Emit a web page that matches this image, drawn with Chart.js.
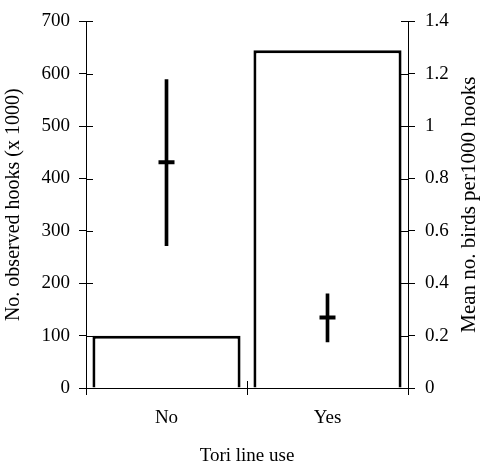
<!DOCTYPE html>
<html>
<head>
<meta charset="utf-8">
<script src="https://cdn.jsdelivr.net/npm/chart.js@4/dist/chart.umd.min.js"></script>
<style>
  body { margin: 0; background: #fff; }
  canvas { display: block; }
</style>
</head>
<body>
<canvas id="myChart" width="483" height="466"></canvas>
<script>
'use strict';

let categories = ['No', 'Yes'];
let hooks = [100, 645];            // No. observed hooks (x 1000)
let birdMean = [0.862, 0.269];     // Mean no. birds per 1000 hooks
let birdLow = [0.544, 0.176];
let birdHigh = [1.178, 0.36];
let hookTicks = ['0', '100', '200', '300', '400', '500', '600', '700'];
let rateTicks = ['0', '0.2', '0.4', '0.6', '0.8', '1', '1.2', '1.4'];
let rightTitle = 'Mean no. birds per1000 hooks';

let birdRange = [];
for (let i = 0; i < categories.length; i++) {
    birdRange.push([birdLow[i], birdHigh[i]]);
}

Chart.defaults.font.family = "'Liberation Serif', 'Times New Roman', serif";
Chart.defaults.color = '#000';

// ticks in the picture cross the axis line, so draw the inner half too
// and the right title reads bottom-to-top like the left one
let axisExtras = {
    id: 'axisExtras',
    afterDraw(chart) {
        let ctx = chart.ctx;
        let y = chart.scales.y;
        let y1 = chart.scales.y1;
        let x = chart.scales.x;
        ctx.save();
        ctx.strokeStyle = '#000';
        ctx.lineWidth = 1;
        ctx.beginPath();
        y.ticks.forEach(function (t, i) {
            let p = Math.round(y.getPixelForTick(i)) + 0.5;
            ctx.moveTo(y.right, p);
            ctx.lineTo(y.right + 7, p);
        });
        y1.ticks.forEach(function (t, i) {
            let p = Math.round(y1.getPixelForTick(i)) + 0.5;
            ctx.moveTo(y1.left - 7, p);
            ctx.lineTo(y1.left, p);
        });
        for (let i = 1; i < categories.length; i++) {
            let p = Math.round(x.getPixelForValue(i - 0.5)) + 0.5;
            ctx.moveTo(p, x.top - 7);
            ctx.lineTo(p, x.top);
        }
        ctx.stroke();

        ctx.translate(y1.right - 14, (y1.top + y1.bottom) / 2);
        ctx.rotate(-Math.PI / 2);
        ctx.fillStyle = '#000';
        ctx.font = "21px 'Liberation Serif', 'Times New Roman', serif";
        ctx.textAlign = 'center';
        ctx.textBaseline = 'middle';
        ctx.fillText(rightTitle, 0, 0);
        ctx.restore();
    }
};

function chartRender() {
    let ctx = document.getElementById('myChart').getContext('2d');
    let myChart = new Chart(ctx, {
        type: 'bar',
        data: {
            labels: categories,
            datasets: [{
                label: 'Hooks',
                data: hooks,
                yAxisID: 'y',
                backgroundColor: '#fff',
                borderColor: '#000',
                borderWidth: 3,
                barPercentage: 0.92,
                categoryPercentage: 1,
                grouped: false,
                order: 3
            }, {
                label: 'Range',
                data: birdRange,
                yAxisID: 'y1',
                backgroundColor: '#000',
                borderWidth: 0,
                barThickness: 3,
                grouped: false,
                order: 2
            }, {
                type: 'line',
                label: 'Mean',
                data: birdMean,
                yAxisID: 'y1',
                showLine: false,
                pointStyle: 'line',
                pointRadius: 8,
                pointHoverRadius: 8,
                borderColor: '#000',
                pointBorderWidth: 4,
                order: 1
            }]
        },
        options: {
            responsive: false,
            animation: false,
            layout: { padding: { top: 20, left: 0, right: 0, bottom: 0 } },
            plugins: {
                legend: { display: false },
                tooltip: { enabled: false }
            },
            scales: {
                x: {
                    offset: true,
                    grid: { offset: true, drawOnChartArea: false, tickLength: 7, color: '#000' },
                    border: { color: '#000', width: 1 },
                    ticks: { font: { size: 19 }, padding: 12 },
                    title: {
                        display: true,
                        text: 'Tori line use',
                        font: { size: 19, lineHeight: 1 },
                        padding: 0
                    },
                    afterFit(scale) { scale.height = 78; }
                },
                y: {
                    position: 'left',
                    min: 0,
                    max: 700,
                    ticks: {
                        stepSize: 100,
                        font: { size: 19 },
                        padding: 9,
                        callback: function (v, i) { return hookTicks[i]; }
                    },
                    grid: { drawOnChartArea: false, tickLength: 7, color: '#000' },
                    border: { color: '#000', width: 1 },
                    title: {
                        display: true,
                        text: 'No. observed hooks (x 1000)',
                        font: { size: 20, lineHeight: 1.2 },
                        padding: { top: 2, bottom: 0 }
                    },
                    afterFit(scale) { scale.width = 86; }
                },
                y1: {
                    position: 'right',
                    min: 0,
                    max: 1.4,
                    ticks: {
                        stepSize: 0.2,
                        font: { size: 19 },
                        padding: 10,
                        callback: function (v, i) { return rateTicks[i]; }
                    },
                    grid: { drawOnChartArea: false, tickLength: 7, color: '#000' },
                    border: { color: '#000', width: 1 },
                    title: { display: false },
                    afterFit(scale) { scale.width = 75; }
                }
            }
        },
        plugins: [axisExtras]
    });
}
chartRender();
</script>
</body>
</html>
